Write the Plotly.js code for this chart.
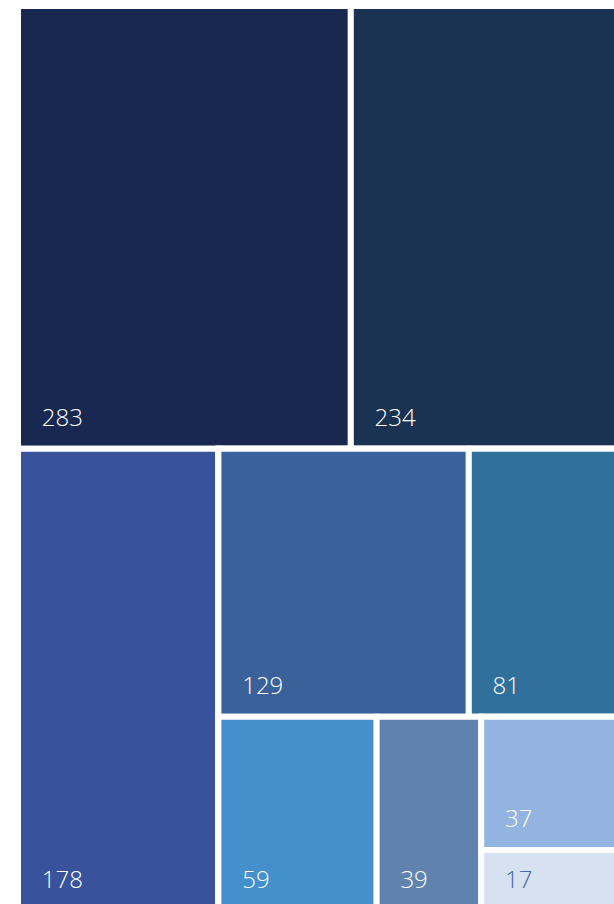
<!DOCTYPE html>
<html>
<head>
<meta charset="utf-8">
<script src="https://cdn.plot.ly/plotly-3.0.1.min.js"></script>
<style>
  html, body { margin: 0; padding: 0; background: #ffffff; overflow: hidden; width: 614px; height: 904px; }
  #chart { width: 626px; height: 911px; }
</style>
</head>
<body>
<div id="chart"></div>
<script>
// Leaf tiles
const tileIds    = ['v283', 'v234', 'v178', 'v129', 'v81', 'v59', 'v39', 'v37', 'v17'];
const tileValues = [283, 234, 178, 129, 81, 59, 39, 37, 17];
const tileGroups = ['A', 'A', 'B', 'D', 'D', 'E', 'E', 'F', 'F'];
const tileColors = ['#192850', '#1b3352', '#38539c', '#3a6199', '#31709b', '#4490cc', '#5f83ad', '#93b4e0', '#d6e1f1'];
const tileTextColors = ['#ffffff', '#ffffff', '#ffffff', '#ffffff', '#ffffff', '#ffffff', '#ffffff', '#ffffff', '#4a6aa8'];

// Grouping that reproduces the arrangement of the tiles
const groupIds     = ['R', 'A', 'B', 'C', 'D', 'E', 'F'];
const groupParents = ['',  'R', 'R', 'B', 'C', 'C', 'E'];

// order so that siblings appear in drawing order
const order = ['R', 'A', 'B', 'v283', 'v234', 'v178', 'C', 'D', 'E', 'v129', 'v81', 'v59', 'v39', 'F', 'v37', 'v17'];

const ids = [], parents = [], values = [], colors = [], texts = [], textColors = [];
order.forEach(function (id) {
  const gi = groupIds.indexOf(id);
  if (gi >= 0) {
    ids.push(id); parents.push(groupParents[gi]); values.push(0);
    colors.push('#ffffff'); texts.push(''); textColors.push('#ffffff');
  } else {
    const ti = tileIds.indexOf(id);
    ids.push(id); parents.push(tileGroups[ti]); values.push(tileValues[ti]);
    colors.push(tileColors[ti]);
    texts.push('<span style="font-size:8px">\u00a0</span><span style="font-size:24px">\u00a0\u00a0\u00a0' + tileValues[ti] + '</span><br>\u00a0');
    textColors.push(tileTextColors[ti]);
  }
});

const trace = {
  type: 'treemap',
  ids: ids,
  labels: ids,
  parents: parents,
  values: values,
  branchvalues: 'remainder',
  sort: false,
  text: texts,
  textinfo: 'text',
  textposition: 'bottom left',
  textfont: { family: 'Open Sans, sans-serif', size: 12, color: textColors, weight: 300 },
  marker: {
    colors: colors,
    line: { width: 6, color: '#ffffff' },
    pad: { t: 0, l: 0, r: 0, b: 0 },
    depthfade: false
  },
  leaf: { opacity: 1 },
  root: { color: '#ffffff' },
  tiling: { packing: 'dice-slice', pad: 0 },
  pathbar: { visible: false },
  hoverinfo: 'skip'
};

const layout = {
  width: 626,
  height: 911,
  margin: { l: 18, t: 6, r: 0, b: 0 },
  paper_bgcolor: '#ffffff',
  plot_bgcolor: '#ffffff',
  showlegend: false
};

Plotly.newPlot('chart', [trace], layout, { displayModeBar: false, staticPlot: true });
</script>
</body>
</html>
